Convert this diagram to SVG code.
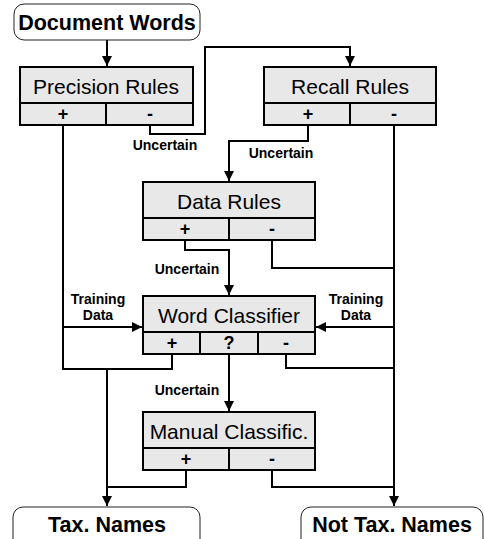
<svg xmlns="http://www.w3.org/2000/svg" width="484" height="539" viewBox="0 0 484 539">
<style>
.box{fill:#e8e8e8;stroke:#000;stroke-width:2}
.term{fill:#fff;stroke:#222;stroke-width:1}
.ln{fill:none;stroke:#000;stroke-width:2}
.title{font-family:"Liberation Sans",Arial,sans-serif;font-size:21px;text-anchor:middle;fill:#000}
.term-t{font-family:"Liberation Sans",Arial,sans-serif;font-size:21.5px;font-weight:bold;text-anchor:middle;fill:#000}
.sym{font-family:"Liberation Sans",Arial,sans-serif;font-size:18px;font-weight:bold;text-anchor:middle;fill:#000}
.lbl{font-family:"Liberation Sans",Arial,sans-serif;font-size:14px;font-weight:bold;text-anchor:middle;fill:#000}
</style>
<defs>
<marker id="arr" markerUnits="userSpaceOnUse" markerWidth="12" markerHeight="12" refX="10" refY="6" orient="auto">
<path d="M0,1 L10,6 L0,11 Z" fill="#000"/>
</marker>
</defs>
<rect width="484" height="539" fill="#fff"/>

<g id="connectors">
<path class="ln" d="M107,40 V66" marker-end="url(#arr)"/>
<path class="ln" d="M150,125 V134 H205 V47 H350 V66" marker-end="url(#arr)"/>
<path class="ln" d="M308,125 V141 H229 V181" marker-end="url(#arr)"/>
<path class="ln" d="M185,240 V250 H229 V295" marker-end="url(#arr)"/>
<path class="ln" d="M272,240 V268 H394"/>
<path class="ln" d="M394,125 V506" marker-end="url(#arr)"/>
<path class="ln" d="M394,327 H316" marker-end="url(#arr)"/>
<path class="ln" d="M63,125 V369 H172 V354"/>
<path class="ln" d="M63,327 H142" marker-end="url(#arr)"/>
<path class="ln" d="M107,369 V506" marker-end="url(#arr)"/>
<path class="ln" d="M229,354 V411" marker-end="url(#arr)"/>
<path class="ln" d="M286,354 V368 H394"/>
<path class="ln" d="M186,470 V487 H107"/>
<path class="ln" d="M272,470 V487 H394"/>
<text class="lbl" x="165" y="150">Uncertain</text>
<text class="lbl" x="281" y="158">Uncertain</text>
<text class="lbl" x="187" y="274">Uncertain</text>
<text class="lbl" x="187" y="395">Uncertain</text>
<text class="lbl" x="98" y="304">Training</text>
<text class="lbl" x="98" y="320">Data</text>
<text class="lbl" x="356" y="304">Training</text>
<text class="lbl" x="356" y="320">Data</text>
</g>

<g id="document-words">
<rect class="term" x="14" y="4" width="186" height="36" rx="10"/>
<text class="term-t" x="107" y="30">Document Words</text>
</g>

<g id="precision-rules">
<rect class="box" x="20" y="67" width="173" height="58"/>
<path class="ln" d="M20,103 H193 M106,103 V125"/>
<text class="title" x="106" y="94">Precision Rules</text>
<text class="sym" x="63" y="120">+</text>
<text class="sym" x="150" y="120">-</text>
</g>

<g id="recall-rules">
<rect class="box" x="264" y="67" width="172" height="58"/>
<path class="ln" d="M264,103 H436 M350,103 V125"/>
<text class="title" x="350" y="94">Recall Rules</text>
<text class="sym" x="308" y="120">+</text>
<text class="sym" x="394" y="120">-</text>
</g>

<g id="data-rules">
<rect class="box" x="143" y="182" width="172" height="58"/>
<path class="ln" d="M143,218 H315 M229,218 V240"/>
<text class="title" x="229" y="209">Data Rules</text>
<text class="sym" x="185" y="235">+</text>
<text class="sym" x="272" y="235">-</text>
</g>

<g id="word-classifier">
<rect class="box" x="143" y="296" width="172" height="58"/>
<path class="ln" d="M143,332 H315 M200,332 V354 M258,332 V354"/>
<text class="title" x="229" y="323">Word Classifier</text>
<text class="sym" x="172" y="349">+</text>
<text class="sym" x="229" y="349">?</text>
<text class="sym" x="286" y="349">-</text>
</g>

<g id="manual-classific">
<rect class="box" x="143" y="412" width="172" height="58"/>
<path class="ln" d="M143,448 H315 M229,448 V470"/>
<text class="title" x="229" y="439">Manual Classific.</text>
<text class="sym" x="186" y="465">+</text>
<text class="sym" x="272" y="465">-</text>
</g>

<g id="tax-names">
<rect class="term" x="13" y="507" width="187" height="42" rx="10"/>
<text class="term-t" x="107" y="532">Tax. Names</text>
</g>

<g id="not-tax-names">
<rect class="term" x="301" y="507" width="182" height="42" rx="10"/>
<text class="term-t" x="392" y="532">Not Tax. Names</text>
</g>
</svg>
